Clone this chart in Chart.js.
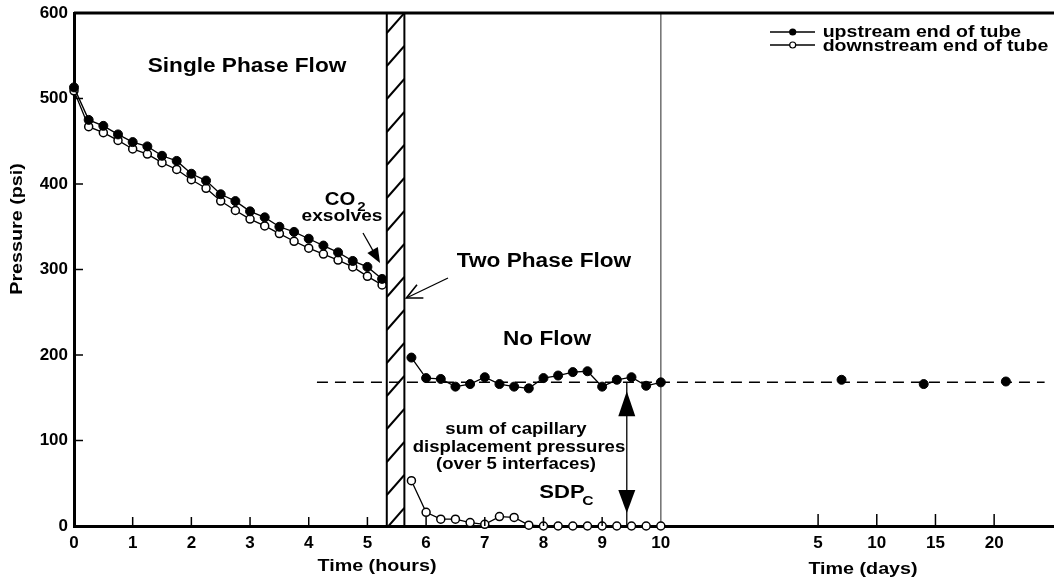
<!DOCTYPE html>
<html>
<head>
<meta charset="utf-8">
<script src="https://cdn.jsdelivr.net/npm/chart.js@4.4.0/dist/chart.umd.min.js"></script>
<style>
  html, body { margin: 0; background: #fff; }
</style>
</head>
<body>
<canvas id="pressureChart" width="1054" height="581"></canvas>
<script>
// single phase flow, readings every 15 min
const hoursA = [0, 0.25, 0.5, 0.75, 1, 1.25, 1.5, 1.75, 2, 2.25, 2.5, 2.75, 3, 3.25, 3.5, 3.75, 4, 4.25, 4.5, 4.75, 5, 5.25];
const upstreamA = [513, 475, 468, 458, 449, 444, 433, 427, 412, 404, 388, 380, 368, 361, 350, 344, 336, 328, 320, 310, 303, 289];
const downstreamA = [509, 467, 460, 451, 441, 435, 425, 417, 405, 395, 380, 369, 359, 351, 342, 333, 325, 318, 311, 303, 292, 282];

// after CO2 exsolves
const hoursB = [5.75, 6, 6.25, 6.5, 6.75, 7, 7.25, 7.5, 7.75, 8, 8.25, 8.5, 8.75, 9, 9.25, 9.5, 9.75, 10];
const upstreamB = [197, 173, 172, 163, 166, 174, 166, 163, 161, 173, 176, 180, 181, 163, 171, 174, 164, 168];
const downstreamB = [53, 16, 8, 8, 4, 2, 11, 10, 1, 0, 0, 0, 0, 0, 0, 0, 0, 0];

// long term, in days
const days = [7, 14, 21];
const upstreamDays = [171, 166, 169];

const hourTicks = [0, 1, 2, 3, 4, 5, 6, 7, 8, 9, 10];
const dayTicks = [5, 10, 15, 20];
const yTicks = [0, 100, 200, 300, 400, 500, 600];

const equilibrium = 168;
const bandHours = [5.33, 5.63];

// the days part of the axis sits after the hours part (5 days per hour unit)
const dayToAxis = d => 11.68 + d / 5;
const pts = (xs, ys) => xs.map((x, i) => ({ x: x, y: ys[i] }));

const xTickValues = hourTicks.concat(dayTicks.map(dayToAxis));
const xTickLabels = hourTicks.map(String).concat(dayTicks.map(String));

const FONT = '"Liberation Sans", Arial, Helvetica, sans-serif';

function txt(ctx, s, x, y, size, align, stretch, rot) {
  ctx.save();
  ctx.translate(x, y);
  if (rot) ctx.rotate(rot);
  ctx.scale(stretch || 1.16, 1);
  ctx.font = 'bold ' + size + 'px ' + FONT;
  ctx.textAlign = align || 'center';
  ctx.textBaseline = 'middle';
  ctx.fillStyle = '#000';
  ctx.fillText(s, 0, 0);
  ctx.restore();
}

function line(ctx, x1, y1, x2, y2, w) {
  ctx.beginPath();
  ctx.moveTo(x1, y1);
  ctx.lineTo(x2, y2);
  ctx.lineWidth = w;
  ctx.stroke();
}

function filledHead(ctx, fx, fy, tx, ty, len, half) {
  const a = Math.atan2(ty - fy, tx - fx);
  ctx.beginPath();
  ctx.moveTo(tx, ty);
  ctx.lineTo(tx - len * Math.cos(a) + half * Math.sin(a), ty - len * Math.sin(a) - half * Math.cos(a));
  ctx.lineTo(tx - len * Math.cos(a) - half * Math.sin(a), ty - len * Math.sin(a) + half * Math.cos(a));
  ctx.closePath();
  ctx.fill();
}

const backgroundMarks = {
  id: 'backgroundMarks',
  beforeDatasetsDraw(chart) {
    const ctx = chart.ctx, x = chart.scales.x, y = chart.scales.y, ca = chart.chartArea;
    ctx.save();
    ctx.strokeStyle = '#000';

    // hatched band
    const b0 = x.getPixelForValue(bandHours[0]), b1 = x.getPixelForValue(bandHours[1]);
    ctx.save();
    ctx.beginPath();
    ctx.rect(b0, ca.top, b1 - b0, ca.bottom - ca.top);
    ctx.clip();
    for (let yy = ca.top; yy < ca.bottom + 40; yy += 33) {
      line(ctx, b0, yy + 20, b1, yy, 2);
    }
    ctx.restore();
    line(ctx, b0, ca.top, b0, ca.bottom, 2);
    line(ctx, b1, ca.top, b1, ca.bottom, 2);

    // end of hours part
    ctx.strokeStyle = '#6e6e6e';
    const p10 = x.getPixelForValue(10);
    line(ctx, p10, ca.top, p10, ca.bottom, 1.5);

    // equilibrium pressure
    ctx.strokeStyle = '#000';
    ctx.setLineDash([11, 7]);
    const pe = y.getPixelForValue(equilibrium);
    line(ctx, x.getPixelForValue(4.14), pe, x.getPixelForValue(16.54), pe, 1.5);
    ctx.setLineDash([]);
    ctx.restore();
  },
  afterDraw(chart) {
    const ctx = chart.ctx, x = chart.scales.x, y = chart.scales.y, ca = chart.chartArea;
    ctx.save();
    ctx.strokeStyle = '#000';
    ctx.fillStyle = '#000';

    // top frame line
    line(ctx, ca.left, ca.top, ca.right, ca.top, 3);

    // inward tick marks
    for (let h = 1; h <= 9; h++) {
      const px = x.getPixelForValue(h);
      line(ctx, px, ca.bottom, px, ca.bottom - 9, 1.5);
    }
    dayTicks.forEach(d => {
      const px = x.getPixelForValue(dayToAxis(d));
      line(ctx, px, ca.bottom, px, ca.bottom - 12, 1.5);
    });
    yTicks.slice(1, -1).forEach(v => {
      const py = y.getPixelForValue(v);
      line(ctx, ca.left, py, ca.left + 9, py, 1.5);
    });

    // labels
    txt(ctx, 'Single Phase Flow', 247, 67, 19.5);
    txt(ctx, 'Two Phase Flow', 544, 262, 19.5);
    txt(ctx, 'No Flow', 547, 340, 19.5);
    txt(ctx, 'CO', 340, 200, 17.5);
    txt(ctx, '2', 361.5, 207, 13);
    txt(ctx, 'exsolves', 342, 216, 16.5);
    txt(ctx, 'sum of capillary', 516, 430, 16);
    txt(ctx, 'displacement pressures', 519, 448, 16);
    txt(ctx, '(over 5 interfaces)', 516, 465, 16);
    txt(ctx, 'SDP', 562, 493, 19);
    txt(ctx, 'C', 588, 501, 13.5);

    // axis titles
    txt(ctx, 'Time (hours)', 377, 566, 17);
    txt(ctx, 'Time (days)', 863, 569, 17);
    txt(ctx, 'Pressure (psi)', 17, 229, 17, 'center', 1.16, -Math.PI / 2);

    // CO2 arrow
    line(ctx, 363, 233, 376, 256, 1.3);
    filledHead(ctx, 363, 233, 380, 263, 15, 6);

    // two phase flow arrow (open head)
    const tx = x.getPixelForValue(bandHours[1]) + 2, ty = 298;
    line(ctx, 448, 278, tx, ty, 1.3);
    const a = Math.atan2(ty - 278, tx - 448);
    ctx.beginPath();
    ctx.moveTo(tx - 17 * Math.cos(a - 0.45), ty - 17 * Math.sin(a - 0.45));
    ctx.lineTo(tx, ty);
    ctx.lineTo(tx - 17 * Math.cos(a + 0.45), ty - 17 * Math.sin(a + 0.45));
    ctx.lineWidth = 1.6;
    ctx.stroke();

    // SDPc double arrow
    const ax = x.getPixelForValue(9.42);
    const yTop = y.getPixelForValue(equilibrium), yBot = y.getPixelForValue(0);
    line(ctx, ax, yTop, ax, yBot, 1.3);
    filledHead(ctx, ax, yTop + 40, ax, yTop + 9, 25, 8.5);
    filledHead(ctx, ax, yBot - 40, ax, yBot - 13, 23, 8.5);

    // legend
    ctx.strokeStyle = '#000';
    line(ctx, 770, 32, 815, 32, 1.3);
    ctx.beginPath();
    ctx.arc(792.7, 32, 3.6, 0, Math.PI * 2);
    ctx.fill();
    line(ctx, 770, 45, 815, 45, 1.3);
    ctx.beginPath();
    ctx.arc(792.7, 45, 3, 0, Math.PI * 2);
    ctx.fillStyle = '#fff';
    ctx.fill();
    ctx.lineWidth = 1.2;
    ctx.stroke();
    txt(ctx, 'upstream end of tube', 822.7, 33, 16, 'left', 1.22);
    txt(ctx, 'downstream end of tube', 822.7, 47, 16, 'left', 1.22);
    ctx.restore();
  }
};

const filled = {
  showLine: true,
  borderColor: '#000',
  borderWidth: 1.3,
  backgroundColor: '#000',
  pointBackgroundColor: '#000',
  pointBorderColor: '#000',
  pointRadius: 4.5,
  pointBorderWidth: 1,
  clip: false
};
const open = {
  showLine: true,
  borderColor: '#000',
  borderWidth: 1.3,
  backgroundColor: '#fff',
  pointBackgroundColor: '#fff',
  pointBorderColor: '#000',
  pointRadius: 4,
  pointBorderWidth: 1.5,
  clip: false
};

const tickFont = { family: FONT, size: 17, weight: 'bold' };

const ctx = document.getElementById('pressureChart').getContext('2d');
new Chart(ctx, {
  type: 'scatter',
  data: {
    datasets: [
      Object.assign({ label: 'upstream end of tube', data: pts(hoursA, upstreamA) }, filled),
      Object.assign({ label: 'downstream end of tube', data: pts(hoursA, downstreamA) }, open),
      Object.assign({ label: 'upstream (two phase)', data: pts(hoursB, upstreamB) }, filled),
      Object.assign({ label: 'downstream (two phase)', data: pts(hoursB, downstreamB) }, open),
      Object.assign({ label: 'upstream (days)', data: pts(days.map(dayToAxis), upstreamDays) }, filled, { showLine: false })
    ]
  },
  options: {
    responsive: false,
    animation: false,
    layout: { autoPadding: false, padding: { top: 13, right: 0, left: 0, bottom: 0 } },
    plugins: {
      legend: { display: false },
      tooltip: { enabled: false }
    },
    scales: {
      x: {
        type: 'linear',
        min: 0,
        max: 16.7,
        afterBuildTicks: s => { s.ticks = xTickValues.map(v => ({ value: v })); },
        afterFit: s => { s.height = 55; s.paddingLeft = 0; s.paddingRight = 0; },
        ticks: {
          autoSkip: false,
          maxRotation: 0,
          padding: 7,
          color: '#000',
          font: tickFont,
          callback: (v, i) => xTickLabels[i]
        },
        grid: { display: false, drawTicks: false },
        border: { display: true, color: '#000', width: 3 }
      },
      y: {
        min: 0,
        max: 600,
        afterBuildTicks: s => { s.ticks = yTicks.map(v => ({ value: v })); },
        afterFit: s => { s.width = 74; s.paddingTop = 0; s.paddingBottom = 0; },
        ticks: { padding: 6, color: '#000', font: tickFont },
        grid: { display: false, drawTicks: false },
        border: { display: true, color: '#000', width: 3 }
      }
    }
  },
  plugins: [backgroundMarks]
});
</script>
</body>
</html>
